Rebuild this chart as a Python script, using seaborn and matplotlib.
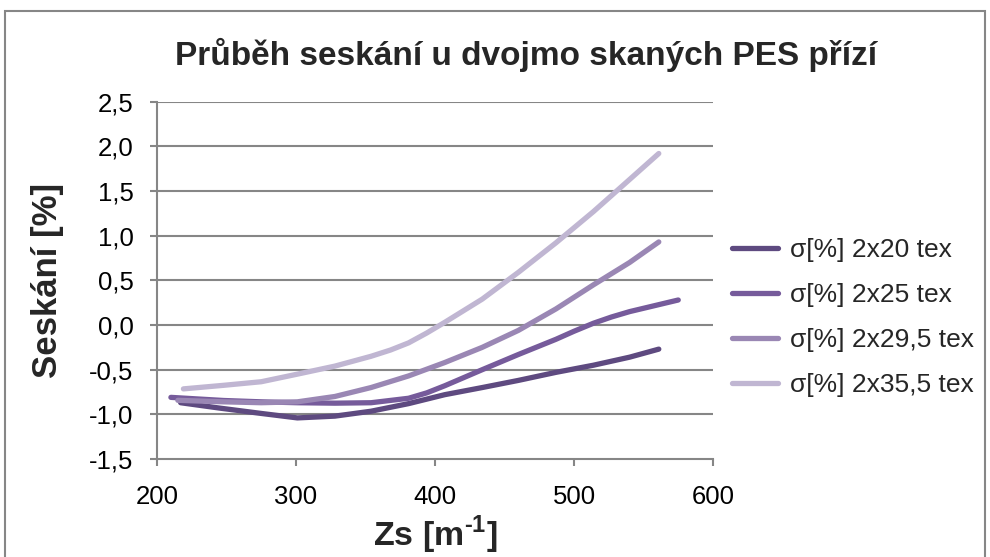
import matplotlib
matplotlib.use("Agg")
import matplotlib.pyplot as plt
from matplotlib.patches import Rectangle
import seaborn as sns
import pandas as pd

# Zs [1/m] and shrinkage [%] along each smoothed curve
zs_20 = [217, 245, 260, 275, 301, 328, 354, 381, 407, 434, 460, 487, 514, 540, 561]
sk_20 = [-0.87, -0.93, -0.96, -0.99, -1.04, -1.02, -0.965, -0.88, -0.78, -0.70, -0.62, -0.53, -0.45, -0.36, -0.27]

zs_25 = [210, 248, 275, 301, 328, 354, 381, 394, 407, 434, 460, 487, 500, 514, 527, 540, 575]
sk_25 = [-0.81, -0.845, -0.86, -0.87, -0.875, -0.87, -0.82, -0.76, -0.68, -0.50, -0.33, -0.16, -0.07, 0.02, 0.09, 0.15, 0.28]

zs_295 = [215, 248, 275, 301, 328, 354, 381, 407, 434, 460, 487, 514, 540, 561]
sk_295 = [-0.843, -0.86, -0.87, -0.86, -0.80, -0.70, -0.57, -0.42, -0.25, -0.06, 0.18, 0.45, 0.70, 0.93]

zs_355 = [219, 248, 275, 301, 328, 354, 368, 381, 394, 407, 434, 460, 487, 514, 535, 561]
sk_355 = [-0.715, -0.675, -0.635, -0.55, -0.46, -0.35, -0.28, -0.20, -0.09, 0.03, 0.29, 0.59, 0.92, 1.27, 1.56, 1.92]

series_names = ["σ[%] 2x20 tex", "σ[%] 2x25 tex", "σ[%] 2x29,5 tex", "σ[%] 2x35,5 tex"]
series_colors = ["#5e4a80", "#765b9b", "#9a87b4", "#c0b6d2"]

y_ticks = [-1.5, -1.0, -0.5, 0.0, 0.5, 1.0, 1.5, 2.0, 2.5]
x_ticks = [200, 300, 400, 500, 600]

frames = []
for name, xs, ys in zip(series_names,
                        [zs_20, zs_25, zs_295, zs_355],
                        [sk_20, sk_25, sk_295, sk_355]):
    frames.append(pd.DataFrame({"Zs": xs, "sk": ys, "serie": name}))
df = pd.concat(frames, ignore_index=True)

sns.set_theme(style="white")
plt.rcParams["font.family"] = ["Liberation Sans", "DejaVu Sans"]
plt.rcParams["mathtext.fontset"] = "custom"
plt.rcParams["mathtext.rm"] = "Liberation Sans:bold"
plt.rcParams["mathtext.bf"] = "Liberation Sans:bold"

fig = plt.figure(figsize=(9.9, 5.57), dpi=100)
ax = fig.add_axes([157 / 990, 1 - 459 / 557, 556 / 990, (459 - 101.7) / 557])

grid_color = "#868686"
for yt in y_ticks[1:]:
    ax.axhline(yt, color=grid_color, lw=1.5, zorder=0)

sns.lineplot(data=df, x="Zs", y="sk", hue="serie", hue_order=series_names,
             palette=series_colors, sort=False, units="serie", estimator=None,
             lw=3.8, solid_capstyle="round", solid_joinstyle="round",
             ax=ax, legend=False)

ax.set_xlim(200, 600)
ax.set_ylim(-1.5, 2.5)
ax.set_xticks(x_ticks)
ax.set_yticks(y_ticks)
ax.set_xticklabels([str(v) for v in x_ticks])
ax.set_yticklabels([f"{v:.1f}".replace(".", ",") for v in y_ticks])

for side in ["top", "right"]:
    ax.spines[side].set_visible(False)
for side in ["left", "bottom"]:
    ax.spines[side].set_color(grid_color)
    ax.spines[side].set_linewidth(1.5)

ax.tick_params(axis="both", which="major", direction="out", length=5, width=1.5,
               color=grid_color, labelcolor="black", labelsize=18.5)
ax.tick_params(axis="y", pad=12, left=True)
ax.tick_params(axis="x", pad=14, bottom=True)

ax.set_xlabel("")
ax.set_ylabel("")
fig.text(48 / 990, 1 - 280 / 557, "Seskání [%]", rotation=90, ha="center",
         va="center", fontsize=25, fontweight="bold")
fig.text(435 / 990, 1 - 535 / 557, r"Zs [m$^{\text{-1}}$]", ha="center",
         va="center", fontsize=24.5, fontweight="bold")
fig.text(526 / 990, 1 - 55 / 557, "Průběh seskání u dvojmo skaných PES přízí",
         ha="center", va="center", fontsize=24, fontweight="bold")

handles = [plt.Line2D([], [], color=c, lw=3.8, solid_capstyle="round")
           for c in series_colors]
fig.legend(handles, series_names, loc="center left",
           bbox_to_anchor=(732 / 990, 1 - 317.5 / 557), frameon=False,
           fontsize=19, handlelength=1.75, handletextpad=0.45, labelspacing=0.8,
           borderpad=0, borderaxespad=0)

fig.patches.append(Rectangle((5 / 990, -0.2), 980 / 990, 1.2 - 11 / 557,
                             transform=fig.transFigure, fill=False,
                             edgecolor=grid_color, lw=1.5))

fig.savefig("out.png", dpi=100)
